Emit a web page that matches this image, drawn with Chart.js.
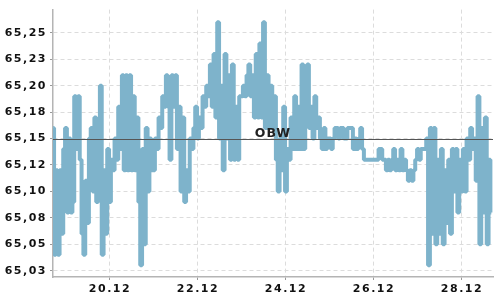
<!DOCTYPE html>
<html>
<head>
<meta charset="utf-8">
<script src="https://cdn.jsdelivr.net/npm/chart.js@4.4.1/dist/chart.umd.min.js"></script>
<style>
html, body { margin: 0; padding: 0; background: #fff; }
</style>
</head>
<body>
<canvas id="chart" width="500" height="300"></canvas>
<script>
// hourly prices per calendar day (December)
const dec18 = [65.16, 65.04, 65.12, 65.04, 65.12, 65.06, 65.14]; // 17:00 - 23:00
const dec19 = [65.16, 65.08, 65.15, 65.08, 65.09, 65.19, 65.14, 65.19, 65.13, 65.06, 65.04, 65.11, 65.07, 65.15, 65.16, 65.10, 65.17, 65.09, 65.14, 65.20, 65.04, 65.12, 65.06, 65.14];
const dec20 = [65.09, 65.13, 65.12, 65.15, 65.13, 65.18, 65.14, 65.21, 65.12, 65.21, 65.12, 65.21, 65.12, 65.19, 65.12, 65.17, 65.09, 65.03, 65.14, 65.05, 65.16, 65.10, 65.15, 65.12];
const dec21 = [65.12, 65.15, 65.14, 65.17, 65.16, 65.19, 65.18, 65.21, 65.18, 65.13, 65.21, 65.18, 65.21, 65.14, 65.18, 65.10, 65.17, 65.09, 65.12, 65.10, 65.15, 65.14, 65.16, 65.18];
const dec22 = [65.15, 65.17, 65.16, 65.19, 65.18, 65.20, 65.19, 65.22, 65.18, 65.23, 65.17, 65.26, 65.15, 65.20, 65.12, 65.23, 65.15, 65.21, 65.13, 65.22, 65.13, 65.18, 65.13, 65.19];
const dec23 = [65.19, 65.20, 65.19, 65.21, 65.22, 65.19, 65.21, 65.17, 65.23, 65.17, 65.24, 65.17, 65.26, 65.16, 65.21, 65.16, 65.20, 65.16, 65.19, 65.13, 65.10, 65.15, 65.12, 65.18];
const dec24 = [65.10, 65.14, 65.13, 65.17, 65.14, 65.19, 65.14, 65.18, 65.14, 65.22, 65.14, 65.18, 65.22, 65.16, 65.18, 65.15, 65.19, 65.16, 65.17, 65.15, 65.14, 65.16, 65.14, 65.15];
const dec25 = [65.15, 65.14, 65.15, 65.16, 65.16, 65.15, 65.16, 65.16, 65.15, 65.15, 65.16, 65.16, 65.16, 65.14, 65.15, 65.14, 65.15, 65.16, 65.14, 65.13, 65.13, 65.13, 65.13, 65.13];
const dec26 = [65.13, 65.13, 65.13, 65.14, 65.14, 65.13, 65.13, 65.12, 65.13, 65.12, 65.13, 65.14, 65.12, 65.13, 65.12, 65.14, 65.12, 65.13, 65.12, 65.11, 65.12, 65.11, 65.12, 65.13];
const dec27 = [65.14, 65.13, 65.14, 65.14, 65.14, 65.15, 65.03, 65.16, 65.06, 65.16, 65.05, 65.13, 65.06, 65.14, 65.05, 65.12, 65.07, 65.13, 65.06, 65.14, 65.10, 65.14, 65.08, 65.13];
const dec28 = [65.10, 65.14, 65.10, 65.15, 65.13, 65.16, 65.14, 65.15, 65.11, 65.19, 65.05, 65.16, 65.08, 65.17, 65.05, 65.13, 65.08]; // 00:00 - 16:00

const dayNumbers = [18, 19, 20, 21, 22, 23, 24, 25, 26, 27, 28];
const dayFirstHour = [17, 0, 0, 0, 0, 0, 0, 0, 0, 0, 0];
const dayPrices = [dec18, dec19, dec20, dec21, dec22, dec23, dec24, dec25, dec26, dec27, dec28];

const xTickDays = [20, 22, 24, 26, 28];
const xTickLabels = ['20.12', '22.12', '24.12', '26.12', '28.12'];
const yTickValues = [65.025, 65.05, 65.075, 65.1, 65.125, 65.15, 65.175, 65.2, 65.225, 65.25];
const yTickLabels = ['65,03', '65,05', '65,08', '65,10', '65,12', '65,15', '65,18', '65,20', '65,23', '65,25'];

const obwValue = 65.15;
const obwLabel = 'OBW';

// x = day of month + fraction of the day
const points = [];
dayPrices.forEach((prices, d) => {
    prices.forEach((p, i) => {
        points.push({ x: dayNumbers[d] + (dayFirstHour[d] + i) / 24, y: p });
    });
});

const tickFont = { family: 'DejaVu Sans', size: 11, weight: 'bold' };

const spacingPlugin = {
    id: 'spacing',
    beforeDraw(chart) {
        chart.ctx.letterSpacing = '1.5px';
    }
};

const obwPlugin = {
    id: 'obw',
    afterDatasetsDraw(chart) {
        const { ctx, chartArea, scales } = chart;
        const y = Math.round(scales.y.getPixelForValue(obwValue)) + 0.5;
        ctx.save();
        ctx.strokeStyle = '#555';
        ctx.lineWidth = 1.2;
        ctx.beginPath();
        ctx.moveTo(chartArea.left, y);
        ctx.lineTo(chartArea.right, y);
        ctx.stroke();
        ctx.fillStyle = '#222';
        ctx.letterSpacing = '1px';
        ctx.font = 'bold 12.5px "DejaVu Sans"';
        ctx.textAlign = 'center';
        ctx.textBaseline = 'alphabetic';
        ctx.fillText(obwLabel, (chartArea.left + chartArea.right) / 2, y - 3);
        ctx.restore();
    }
};

new Chart(document.getElementById('chart'), {
    type: 'line',
    data: {
        datasets: [{
            data: points,
            borderColor: '#7eb3cb',
            borderWidth: 4,
            borderJoinStyle: 'bevel',
            stepped: 'middle',
            pointRadius: 0,
            fill: false
        }]
    },
    options: {
        responsive: false,
        animation: false,
        devicePixelRatio: 1,
        layout: { padding: { top: 5, right: 7, left: 0, bottom: 0 } },
        plugins: { legend: { display: false }, tooltip: { enabled: false } },
        scales: {
            x: {
                type: 'linear',
                min: 18.705,
                max: 28.705,
                afterBuildTicks: s => { s.ticks = xTickDays.map(v => ({ value: v })); },
                afterFit: s => { s.height = 23; },
                ticks: {
                    callback: (v, i) => xTickLabels[i],
                    color: '#111',
                    font: tickFont,
                    padding: 3,
                    maxRotation: 0,
                    autoSkip: false
                },
                grid: { color: '#dcdcdc', tickColor: '#999', tickLength: 3 },
                border: { color: '#b4b4b4', width: 1.5, dash: [4, 3] }
            },
            y: {
                min: 65.019,
                max: 65.272,
                afterBuildTicks: s => { s.ticks = yTickValues.map(v => ({ value: v })); },
                afterFit: s => { s.width = 53; },
                ticks: {
                    callback: (v, i) => yTickLabels[i],
                    color: '#111',
                    font: tickFont,
                    padding: 3,
                    autoSkip: false
                },
                grid: { color: '#dcdcdc', tickColor: '#999', tickLength: 3 },
                border: { color: '#b4b4b4', width: 1.5, dash: [4, 3] }
            }
        }
    },
    plugins: [spacingPlugin, obwPlugin]
});
</script>
</body>
</html>
